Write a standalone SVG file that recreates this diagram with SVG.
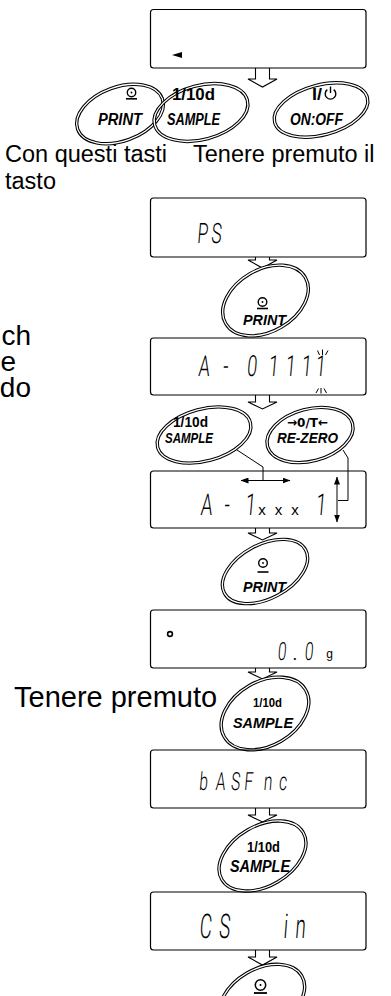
<svg xmlns="http://www.w3.org/2000/svg" width="391" height="996" viewBox="0 0 391 996">
<style>
.box{fill:none;stroke:#000;stroke-width:1.2}
.bo{fill:none;stroke:#000;stroke-width:3.4}
.bi{fill:none;stroke:#fff;stroke-width:1.3}
.ha{fill:#fff;stroke:#000;stroke-width:1.1}
.ln{fill:none;stroke:#000;stroke-width:1}
.txt{font-family:"Liberation Sans",Arial,sans-serif;fill:#000}
.kb{font-family:"Liberation Sans",Arial,sans-serif;font-weight:bold;fill:#000;text-anchor:middle}
.ki{font-style:italic}
.seg{font-family:Roboto,"DejaVu Sans",sans-serif;font-weight:300;fill:#000;text-anchor:middle}
.sm{font-family:"Liberation Sans",Arial,sans-serif;fill:#000;text-anchor:middle}
</style>
<defs>
<marker id="ah" viewBox="0 0 8 6" refX="7.5" refY="3" markerWidth="8" markerHeight="6" markerUnits="userSpaceOnUse" orient="auto-start-reverse"><path d="M0,0 L8,3 L0,6 Z" fill="#000"/></marker>
</defs>

<!-- free text -->
<g id="labels">
<text class="txt" x="5" y="162" font-size="23.5">Con questi tasti</text>
<text class="txt" x="5" y="189" font-size="23.5">tasto</text>
<text class="txt" x="193" y="162" font-size="23.5">Tenere premuto il</text>
<text class="txt" x="31" y="345" font-size="28" text-anchor="end">ch</text>
<text class="txt" x="16" y="371" font-size="28" text-anchor="end">e</text>
<text class="txt" x="31" y="397" font-size="28" text-anchor="end">do</text>
<text class="txt" x="14" y="707" font-size="29">Tenere premuto</text>
</g>

<!-- connectors -->
<g id="connectors">
<path class="ha" d="M255.5,68 V79 H248 L262.5,87 L277,79 H269.5 V68"/>
<path class="ha" d="M255.5,257 V260 H248 L262.5,268 L277,260 H269.5 V257"/>
<path class="ha" d="M255.5,395 V402 H248 L262.5,409 L277,402 H269.5 V395"/>
<path class="ha" d="M255.5,528 V533 H248 L262.5,540 L277,533 H269.5 V528"/>
<path class="ha" d="M255.5,668 V672 H248 L262.5,679 L277,672 H269.5 V668"/>
<path class="ha" d="M255.5,808 V815 H248 L262.5,822 L277,815 H269.5 V808"/>
<path class="ha" d="M255.5,950 V957 H248 L262.5,965 L277,957 H269.5 V950"/>
<polyline class="ln" points="234,448 263,467 263,480.5"/>
<polyline class="ln" points="343,450 348,458 348,500.5 338,500.5"/>
<line class="ln" x1="241" y1="480.5" x2="290" y2="480.5" marker-start="url(#ah)" marker-end="url(#ah)"/>
<line class="ln" x1="337" y1="477" x2="337" y2="522" marker-start="url(#ah)" marker-end="url(#ah)"/>
</g>

<!-- display 1 -->
<g id="disp1">
<rect class="box" x="150.5" y="9.5" width="215.5" height="58.5" rx="3"/>
<polygon points="172,55 182,52 182,58" fill="#000"/>
</g>

<!-- top row buttons -->
<g id="btn-print1">
<g transform="translate(120,114) rotate(-20)"><ellipse class="bo" rx="45" ry="27"/><ellipse class="bi" rx="45" ry="27"/></g>
<circle cx="131.5" cy="92.5" r="4.2" fill="none" stroke="#000" stroke-width="1.4"/>
<circle cx="131.5" cy="92.5" r="0.9" fill="#000"/>
<line x1="126" y1="98.8" x2="137" y2="98.8" stroke="#000" stroke-width="1.6"/>
<text class="kb ki" x="120" y="125" font-size="16" textLength="44" lengthAdjust="spacingAndGlyphs">PRINT</text>
</g>
<g id="btn-sample1">
<g transform="translate(201,112.5) rotate(-15)"><ellipse class="bo" rx="48" ry="27"/><ellipse class="bi" rx="48" ry="27"/></g>
<text class="kb" x="193.5" y="99.5" font-size="16" textLength="43" lengthAdjust="spacingAndGlyphs">1/10d</text>
<text class="kb ki" x="193.5" y="125" font-size="16" textLength="53" lengthAdjust="spacingAndGlyphs">SAMPLE</text>
</g>
<g id="btn-onoff">
<g transform="translate(321,110) rotate(-15)"><ellipse class="bo" rx="48" ry="25"/><ellipse class="bi" rx="48" ry="25"/></g>
<text class="kb" x="317" y="100" font-size="16" textLength="10" lengthAdjust="spacingAndGlyphs">I/</text>
<path d="M327.3,89.6 A5.3,5.3 0 1 0 333.7,89.6" fill="none" stroke="#000" stroke-width="1.4"/>
<line x1="330.5" y1="86.5" x2="330.5" y2="93" stroke="#000" stroke-width="1.4"/>
<text class="kb ki" x="316.5" y="125" font-size="16" textLength="53" lengthAdjust="spacingAndGlyphs">ON:OFF</text>
</g>

<!-- display 2 -->
<g id="disp2">
<rect class="box" x="150.5" y="198" width="215.5" height="59" rx="3"/>
<text class="seg" font-size="28" transform="translate(202,243) scale(.62,1) skewX(-8)">P</text>
<text class="seg" font-size="28" transform="translate(216,243) scale(.62,1) skewX(-8)">S</text>
</g>

<g id="btn-print2">
<g transform="translate(265.5,300.5) rotate(-30)"><ellipse class="bo" rx="46" ry="31"/><ellipse class="bi" rx="46" ry="31"/></g>
<circle cx="262.5" cy="302" r="4.3" fill="none" stroke="#000" stroke-width="1.4"/>
<circle cx="262.5" cy="302" r="0.9" fill="#000"/>
<line x1="257" y1="308.5" x2="268" y2="308.5" stroke="#000" stroke-width="1.6"/>
<text class="kb ki" x="264.5" y="325" font-size="15" textLength="43" lengthAdjust="spacingAndGlyphs">PRINT</text>
</g>

<!-- display 3 -->
<g id="disp3">
<rect class="box" x="150.5" y="338" width="215.5" height="57" rx="3"/>
<g font-size="29">
<text class="seg" transform="translate(203.5,376) scale(.62,1) skewX(-8)">A</text>
<text class="seg" transform="translate(225,376) scale(.62,1) skewX(-8)">-</text>
<text class="seg" transform="translate(251.5,376) scale(.62,1) skewX(-8)">0</text>
<text class="seg" transform="translate(273,376) scale(.62,1) skewX(-8)">1</text>
<text class="seg" transform="translate(290,376) scale(.62,1) skewX(-8)">1</text>
<text class="seg" transform="translate(306,376) scale(.62,1) skewX(-8)">1</text>
<text class="seg" transform="translate(320,376) scale(.62,1) skewX(-8)">1</text>
</g>
<g class="ln" stroke-width="0.9">
<line x1="317.5" y1="350.5" x2="319.5" y2="355"/>
<line x1="322.5" y1="349.5" x2="322.5" y2="355"/>
<line x1="328" y1="350.5" x2="325.5" y2="355"/>
<line x1="318.5" y1="388.5" x2="316" y2="393"/>
<line x1="321" y1="388" x2="321" y2="393.5"/>
<line x1="324" y1="388.5" x2="326.5" y2="393"/>
</g>
</g>

<g id="btn-sample2">
<g transform="translate(204,435) rotate(-15)"><ellipse class="bo" rx="48" ry="26"/><ellipse class="bi" rx="48" ry="26"/></g>
<text class="kb" x="190.5" y="427" font-size="15" textLength="35" lengthAdjust="spacingAndGlyphs">1/10d</text>
<text class="kb ki" x="189" y="443" font-size="15" textLength="48" lengthAdjust="spacingAndGlyphs">SAMPLE</text>
</g>
<g id="btn-rezero">
<g transform="translate(310,435) rotate(-15)"><ellipse class="bo" rx="44" ry="26"/><ellipse class="bi" rx="44" ry="26"/></g>
<text class="kb" x="307.5" y="427" font-size="13" textLength="41" lengthAdjust="spacingAndGlyphs" style="font-family:'DejaVu Sans',sans-serif">→0/T←</text>
<text class="kb ki" x="307.5" y="443" font-size="15" textLength="61" lengthAdjust="spacingAndGlyphs">RE-ZERO</text>
</g>

<!-- display 4 -->
<g id="disp4">
<rect class="box" x="150.5" y="471" width="215.5" height="57" rx="3"/>
<g font-size="30">
<text class="seg" transform="translate(206,515) scale(.62,1) skewX(-8)">A</text>
<text class="seg" transform="translate(226.5,515) scale(.62,1) skewX(-8)">-</text>
<text class="seg" transform="translate(250,515) scale(.62,1) skewX(-8)">1</text>
<text class="seg" transform="translate(320.5,515) scale(.62,1) skewX(-8)">1</text>
</g>
<text class="sm" x="262" y="515" font-size="15">x</text>
<text class="sm" x="278.5" y="515" font-size="15">x</text>
<text class="sm" x="295" y="515" font-size="15">x</text>
</g>

<g id="btn-print3">
<g transform="translate(265,571.5) rotate(-28)"><ellipse class="bo" rx="46" ry="27"/><ellipse class="bi" rx="46" ry="27"/></g>
<circle cx="263" cy="563" r="4.3" fill="none" stroke="#000" stroke-width="1.4"/>
<circle cx="263" cy="563" r="0.9" fill="#000"/>
<line x1="257.5" y1="572" x2="268.5" y2="572" stroke="#000" stroke-width="1.6"/>
<text class="kb ki" x="264.5" y="592" font-size="15" textLength="43" lengthAdjust="spacingAndGlyphs">PRINT</text>
</g>

<!-- display 5 -->
<g id="disp5">
<rect class="box" x="150.5" y="610" width="215.5" height="58" rx="3"/>
<circle cx="170" cy="634" r="2.4" fill="none" stroke="#000" stroke-width="1.6"/>
<g font-size="25">
<text class="seg" transform="translate(281.5,660) scale(.62,1) skewX(-8)">0</text>
<text class="seg" transform="translate(295,660)">.</text>
<text class="seg" transform="translate(308.5,660) scale(.62,1) skewX(-8)">0</text>
</g>
<text class="sm" x="329.5" y="658" font-size="12">g</text>
</g>

<g id="btn-sample3">
<g transform="translate(265,713.5) rotate(-30)"><ellipse class="bo" rx="47" ry="32"/><ellipse class="bi" rx="47" ry="32"/></g>
<text class="kb" x="267.5" y="707" font-size="12" textLength="29" lengthAdjust="spacingAndGlyphs">1/10d</text>
<text class="kb ki" x="263" y="728" font-size="15" textLength="60" lengthAdjust="spacingAndGlyphs">SAMPLE</text>
</g>

<!-- display 6 -->
<g id="disp6">
<rect class="box" x="150.5" y="750" width="215.5" height="58" rx="3"/>
<g font-size="25">
<text class="seg" transform="translate(203,790) scale(.62,1) skewX(-8)">b</text>
<text class="seg" transform="translate(220,790) scale(.62,1) skewX(-8)">A</text>
<text class="seg" transform="translate(235,790) scale(.62,1) skewX(-8)">S</text>
<text class="seg" transform="translate(248,790) scale(.62,1) skewX(-8)">F</text>
<text class="seg" transform="translate(267.5,790) scale(.62,1) skewX(-8)">n</text>
<text class="seg" transform="translate(282.5,790) scale(.62,1) skewX(-8)">c</text>
</g>
</g>

<g id="btn-sample4">
<g transform="translate(262.5,856) rotate(-30)"><ellipse class="bo" rx="47" ry="30"/><ellipse class="bi" rx="47" ry="30"/></g>
<text class="kb" x="263.5" y="852" font-size="14" textLength="33" lengthAdjust="spacingAndGlyphs">1/10d</text>
<text class="kb ki" x="260" y="872" font-size="16" textLength="60" lengthAdjust="spacingAndGlyphs">SAMPLE</text>
</g>

<!-- display 7 -->
<g id="disp7">
<rect class="box" x="150.5" y="892" width="215.5" height="58" rx="3"/>
<g font-size="34">
<text class="seg" transform="translate(205,938) scale(.55,1) skewX(-8)">C</text>
<text class="seg" transform="translate(224,938) scale(.55,1) skewX(-8)">S</text>
<text class="seg" transform="translate(285,938) scale(.55,1) skewX(-8)">i</text>
<text class="seg" transform="translate(300,938) scale(.55,1) skewX(-8)">n</text>
</g>
</g>

<g id="btn-print4">
<g transform="translate(262,999) rotate(-30)"><ellipse class="bo" rx="46" ry="30"/><ellipse class="bi" rx="46" ry="30"/></g>
<circle cx="260.5" cy="985" r="5.2" fill="none" stroke="#000" stroke-width="1.5"/>
<circle cx="260.5" cy="985" r="1" fill="#000"/>
<line x1="254" y1="993" x2="267" y2="993" stroke="#000" stroke-width="1.8"/>
</g>
</svg>
